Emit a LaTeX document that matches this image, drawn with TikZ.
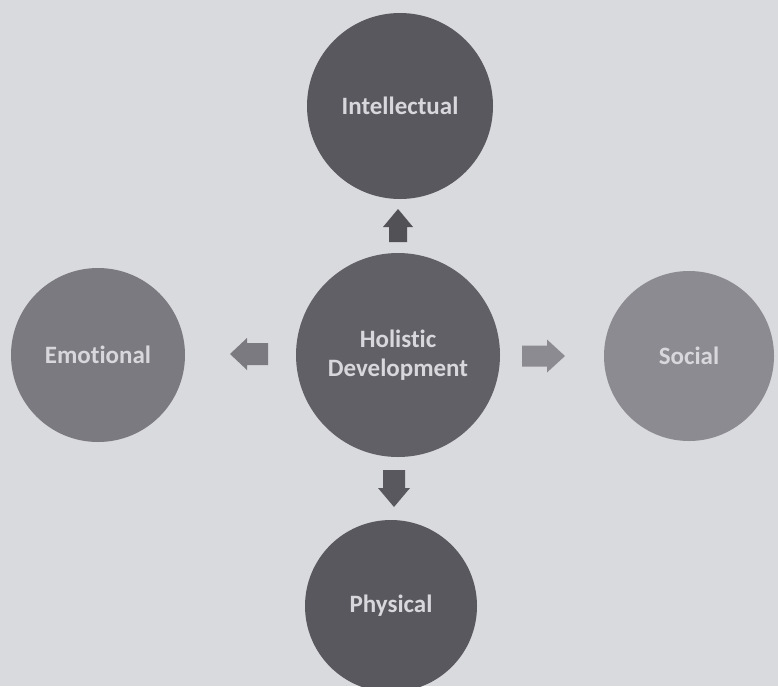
\documentclass[tikz,border=0pt]{standalone}
\usepackage{fontspec}
\setmainfont{Carlito}[Ligatures=NoCommon]
\definecolor{bgc}{HTML}{D9DADE}
\definecolor{cdark}{HTML}{59585E}
\definecolor{cmid}{HTML}{7B7A80}
\definecolor{clight}{HTML}{8C8B91}
\definecolor{ctext}{HTML}{D8D7DB}
\tikzset{
  bubble/.style={circle, inner sep=0pt, align=center, text=ctext,
    font=\fontsize{25}{29}\selectfont\bfseries},
  pics/blockarrow/.style n args={4}{code={
    \fill[pic actions] (0,-#3) -- ({#1-#2},-#3) -- ({#1-#2},-#4) -- (#1,0)
      -- ({#1-#2},#4) -- ({#1-#2},#3) -- (0,#3) -- cycle;}}
}
\begin{document}
\begin{tikzpicture}[x=1pt,y=-1pt]
\fill[bgc] (0,0) rectangle (778,686);
\useasboundingbox (0,0) rectangle (778,686);
\node[bubble, fill=cdark, minimum size=186pt] (intel) at (400,106) {Intellectual};
\node[bubble, fill=cmid, minimum size=174pt] (emo) at (98,355) {Emotional};
\node[bubble, fill=cdark!95!white, minimum size=204pt] (hol) at (398,355) {Holistic\\Development};
\node[bubble, fill=clight, minimum size=170pt] (soc) at (689,356) {Social};
\node[bubble, fill=cdark, minimum size=172pt] (phys) at (391,606) {Physical};
\pic[fill=cdark!92!black, rotate=90] at (398,242) {blockarrow={33}{18}{9}{15}};
\pic[fill=cmid, rotate=180] at (268,354) {blockarrow={38}{17}{11}{16}};
\pic[fill=clight] at (522,356) {blockarrow={43}{18}{10.5}{16.5}};
\pic[fill=cdark, rotate=-90] at (394,470) {blockarrow={37}{19}{11}{16}};
\end{tikzpicture}
\end{document}
